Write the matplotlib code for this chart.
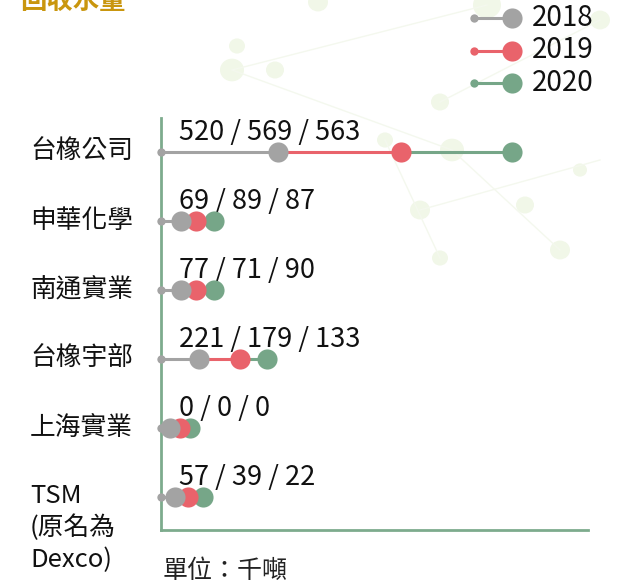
import matplotlib
matplotlib.use('Agg')
import matplotlib.pyplot as plt
from matplotlib.patches import Circle

plt.rcParams['font.family'] = ['Noto Sans CJK TC', 'DejaVu Sans']

# companies, top to bottom
companies = ['台橡公司', '申華化學', '南通實業', '台橡宇部', '上海實業', 'TSM\n(原名為\nDexco)']
# printed values 2018 / 2019 / 2020 (千噸)
v2018 = [520, 69, 77, 221, 0, 57]
v2019 = [569, 89, 71, 179, 0, 39]
v2020 = [563, 87, 90, 133, 0, 22]
# marker positions as they sit on the chart (chart units, axis starts at 0)
pos2018 = [117, 20, 20, 38, 9, 14]
pos2019 = [240, 35, 35, 79, 19, 27]
pos2020 = [351, 53, 53, 106, 29, 42]
years = ['2018', '2019', '2020']

c_gray = '#a3a3a3'
c_red = '#e9636b'
c_green = '#76a688'
c_axis = '#7dab8d'
c_title = '#c9960e'

fig = plt.figure(figsize=(6.21, 5.87), dpi=100)

# faint decorative background bubbles
deco = [(487, 5, 14), (318, 2, 10), (237, 46, 8), (232, 70, 12), (440, 102, 9),
        (452, 150, 12), (385, 140, 8), (600, 20, 10), (420, 210, 10), (525, 205, 9),
        (560, 250, 10), (440, 258, 8), (580, 170, 7), (275, 70, 9)]
for x, y, r in deco:
    fig.add_artist(Circle((x / 621, 1 - y / 587), r / 621, transform=fig.transFigure,
                          color='#f1f7e8', zorder=0, lw=0))
for (x1, y1), (x2, y2) in [((232, 70), (487, 5)), ((232, 70), (452, 150)),
                           ((440, 102), (600, 20)), ((452, 150), (560, 250)),
                           ((420, 210), (600, 160)), ((385, 140), (440, 258))]:
    fig.add_artist(plt.Line2D([x1 / 621, x2 / 621], [1 - y1 / 587, 1 - y2 / 587],
                              transform=fig.transFigure, color='#f4f8ee', lw=1.0, zorder=0))

ax = fig.add_axes([161 / 621, 1 - 530 / 587, 427 / 621, 412 / 587])
ax.patch.set_alpha(0)

for i in range(len(companies)):
    ax.plot([0, pos2018[i]], [i, i], color=c_gray, lw=2.2, zorder=2, solid_capstyle='butt')
    ax.plot([pos2018[i], pos2019[i]], [i, i], color=c_red, lw=2.2, zorder=2, solid_capstyle='butt')
    ax.plot([pos2019[i], pos2020[i]], [i, i], color=c_green, lw=2.2, zorder=2, solid_capstyle='butt')
    ax.plot(0, i, 'o', color=c_gray, ms=6, mew=0, zorder=3, clip_on=False)
    ax.plot(pos2020[i], i, 'o', color=c_green, ms=14.5, mew=0, zorder=4, clip_on=False)
    ax.plot(pos2019[i], i, 'o', color=c_red, ms=14.5, mew=0, zorder=5, clip_on=False)
    ax.plot(pos2018[i], i, 'o', color=c_gray, ms=14.5, mew=0, zorder=6, clip_on=False)
    ax.text(18, i - 0.28, f'{v2018[i]} / {v2019[i]} / {v2020[i]}', fontsize=19.5,
            ha='left', va='center', color='#111111')
    multi = '\n' in companies[i]
    ax.text(-131, i - 0.2 if multi else i, companies[i], fontsize=18.5, ha='left',
            va='top' if multi else 'center',
            color='#111111', linespacing=1.28)

ax.set_xlim(0, 427)
ax.set_ylim(5.48, -0.49)
ax.set_xticks([])
ax.set_yticks([])
for s in ['top', 'right']:
    ax.spines[s].set_visible(False)
for s in ['left', 'bottom']:
    ax.spines[s].set_color(c_axis)
    ax.spines[s].set_linewidth(2)

# legend drawn by hand in its own small axes
lax = fig.add_axes([460 / 621, 1 - 100 / 587, 161 / 621, 100 / 587])
lax.set_xlim(460, 621)
lax.set_ylim(100, 0)
lax.axis('off')
cols = [c_gray, c_red, c_green]
for k, yr in enumerate(years):
    y = 18 + k * 32.5
    lax.plot([474, 512], [y, y], color=cols[k], lw=2.2)
    lax.plot(474, y, 'o', color=cols[k], ms=6, mew=0)
    lax.plot(512, y, 'o', color=cols[k], ms=14.5, mew=0)
    lax.text(532, y, yr, fontsize=20, ha='left', va='center', color='#111111')

fig.text(20 / 621, 1 - 1 / 587, '回收水量', fontsize=19, color=c_title,
         ha='left', va='center', fontweight='bold')
fig.text(163 / 621, 1 - 571 / 587, '單位：千噸', fontsize=18, color='#222222',
         ha='left', va='center')

fig.savefig('out.png', dpi=100)
